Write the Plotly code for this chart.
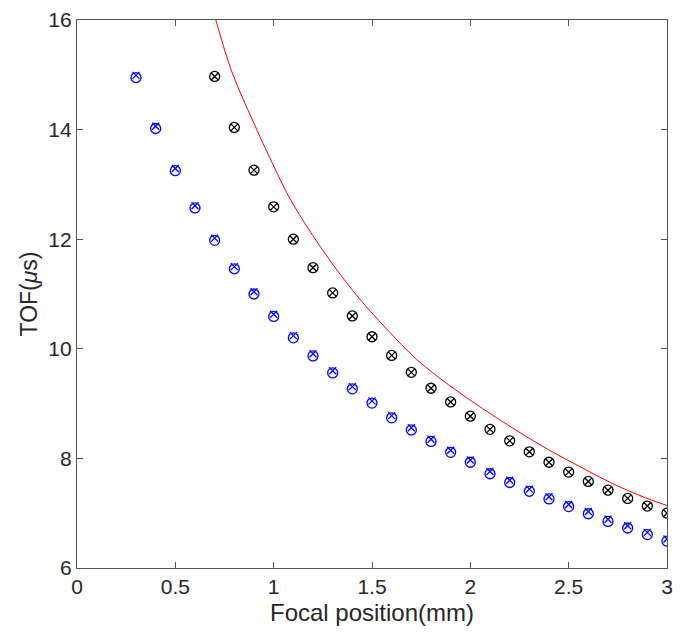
import plotly.graph_objects as go

# Blue series (focal positions 0.3 .. 3.0 mm)
blue_x = [0.3, 0.4, 0.5, 0.6, 0.7, 0.8, 0.9, 1.0, 1.1, 1.2, 1.3, 1.4, 1.5, 1.6,
          1.7, 1.8, 1.9, 2.0, 2.1, 2.2, 2.3, 2.4, 2.5, 2.6, 2.7, 2.8, 2.9, 3.0]
blue_circle = [14.95, 14.02, 13.25, 12.57, 11.98, 11.46, 11.00, 10.59, 10.20, 9.87,
               9.56, 9.27, 9.01, 8.74, 8.52, 8.31, 8.11, 7.93, 7.72, 7.56,
               7.40, 7.26, 7.12, 6.99, 6.85, 6.73, 6.61, 6.49]
blue_cross = [14.99, 14.06, 13.29, 12.61, 12.02, 11.50, 11.04, 10.63, 10.24, 9.91,
              9.60, 9.31, 9.05, 8.78, 8.56, 8.35, 8.15, 7.97, 7.76, 7.60,
              7.44, 7.30, 7.16, 7.03, 6.89, 6.77, 6.65, 6.53]

# Black series (focal positions 0.7 .. 3.0 mm)
black_x = [0.7, 0.8, 0.9, 1.0, 1.1, 1.2, 1.3, 1.4, 1.5, 1.6, 1.7, 1.8, 1.9, 2.0,
           2.1, 2.2, 2.3, 2.4, 2.5, 2.6, 2.7, 2.8, 2.9, 3.0]
black_y = [14.97, 14.04, 13.26, 12.59, 12.00, 11.48, 11.02, 10.60, 10.22, 9.88,
           9.57, 9.28, 9.03, 8.77, 8.53, 8.32, 8.12, 7.93, 7.75, 7.58,
           7.42, 7.27, 7.13, 7.00]

# Red curve samples
red_x = [0.706, 0.787, 0.904, 1.005, 1.089, 1.24, 1.407, 1.575, 1.726, 1.894,
         2.062, 2.23, 2.397, 2.557, 2.724, 2.892, 3.0]
red_y = [16.0, 15.06, 14.08, 13.30, 12.70, 11.85, 11.04, 10.36, 9.81, 9.33,
         8.91, 8.52, 8.16, 7.85, 7.54, 7.28, 7.14]

x_ticks = [0, 0.5, 1, 1.5, 2, 2.5, 3]
x_tick_labels = ["0", "0.5", "1", "1.5", "2", "2.5", "3"]
y_ticks = [6, 8, 10, 12, 14, 16]
y_tick_labels = ["6", "8", "10", "12", "14", "16"]

fig = go.Figure()
fig.add_trace(go.Scatter(x=red_x, y=red_y, mode="lines",
                         line=dict(color="#ff0000", width=1, shape="spline", smoothing=1),
                         showlegend=False))
fig.add_trace(go.Scatter(x=black_x, y=black_y, mode="markers",
                         marker=dict(symbol="circle-open", size=10, color="black",
                                     line=dict(color="black", width=1.3)),
                         showlegend=False))
fig.add_trace(go.Scatter(x=black_x, y=black_y, mode="markers",
                         marker=dict(symbol="x-thin-open", size=7, color="black",
                                     line=dict(color="black", width=1.3)),
                         showlegend=False))
fig.add_trace(go.Scatter(x=blue_x, y=blue_circle, mode="markers",
                         marker=dict(symbol="circle-open", size=10, color="#0000ff",
                                     line=dict(color="#0000ff", width=1.3)),
                         showlegend=False))
fig.add_trace(go.Scatter(x=blue_x, y=blue_cross, mode="markers",
                         marker=dict(symbol="x-thin-open", size=7, color="#0000ff",
                                     line=dict(color="#0000ff", width=1.3)),
                         showlegend=False))

axis_color = "#555555"
font_family = "Liberation Sans, Arial, sans-serif"

fig.update_layout(
    width=681, height=644,
    margin=dict(l=77, r=8, t=13, b=76),
    paper_bgcolor="white", plot_bgcolor="white",
    font=dict(family=font_family, size=21, color="#262626"),
    xaxis=dict(range=[0, 3], tickvals=x_ticks, ticktext=x_tick_labels,
               ticks="inside", ticklen=6, tickcolor=axis_color, tickwidth=1,
               showline=True, linecolor=axis_color, linewidth=1.2, mirror="ticks",
               showgrid=False, zeroline=False, tickfont=dict(size=21),
               title=dict(text="Focal position(mm)", font=dict(size=24), standoff=6)),
    yaxis=dict(range=[6, 16], tickvals=y_ticks, ticktext=y_tick_labels,
               ticks="inside", ticklen=6, tickcolor=axis_color, tickwidth=1,
               showline=True, linecolor=axis_color, linewidth=1.2, mirror="ticks",
               showgrid=False, zeroline=False, tickfont=dict(size=21),
               title=dict(text="TOF(<i>μ</i>s)", font=dict(size=23), standoff=4)),
)

fig.write_html("out.html")
